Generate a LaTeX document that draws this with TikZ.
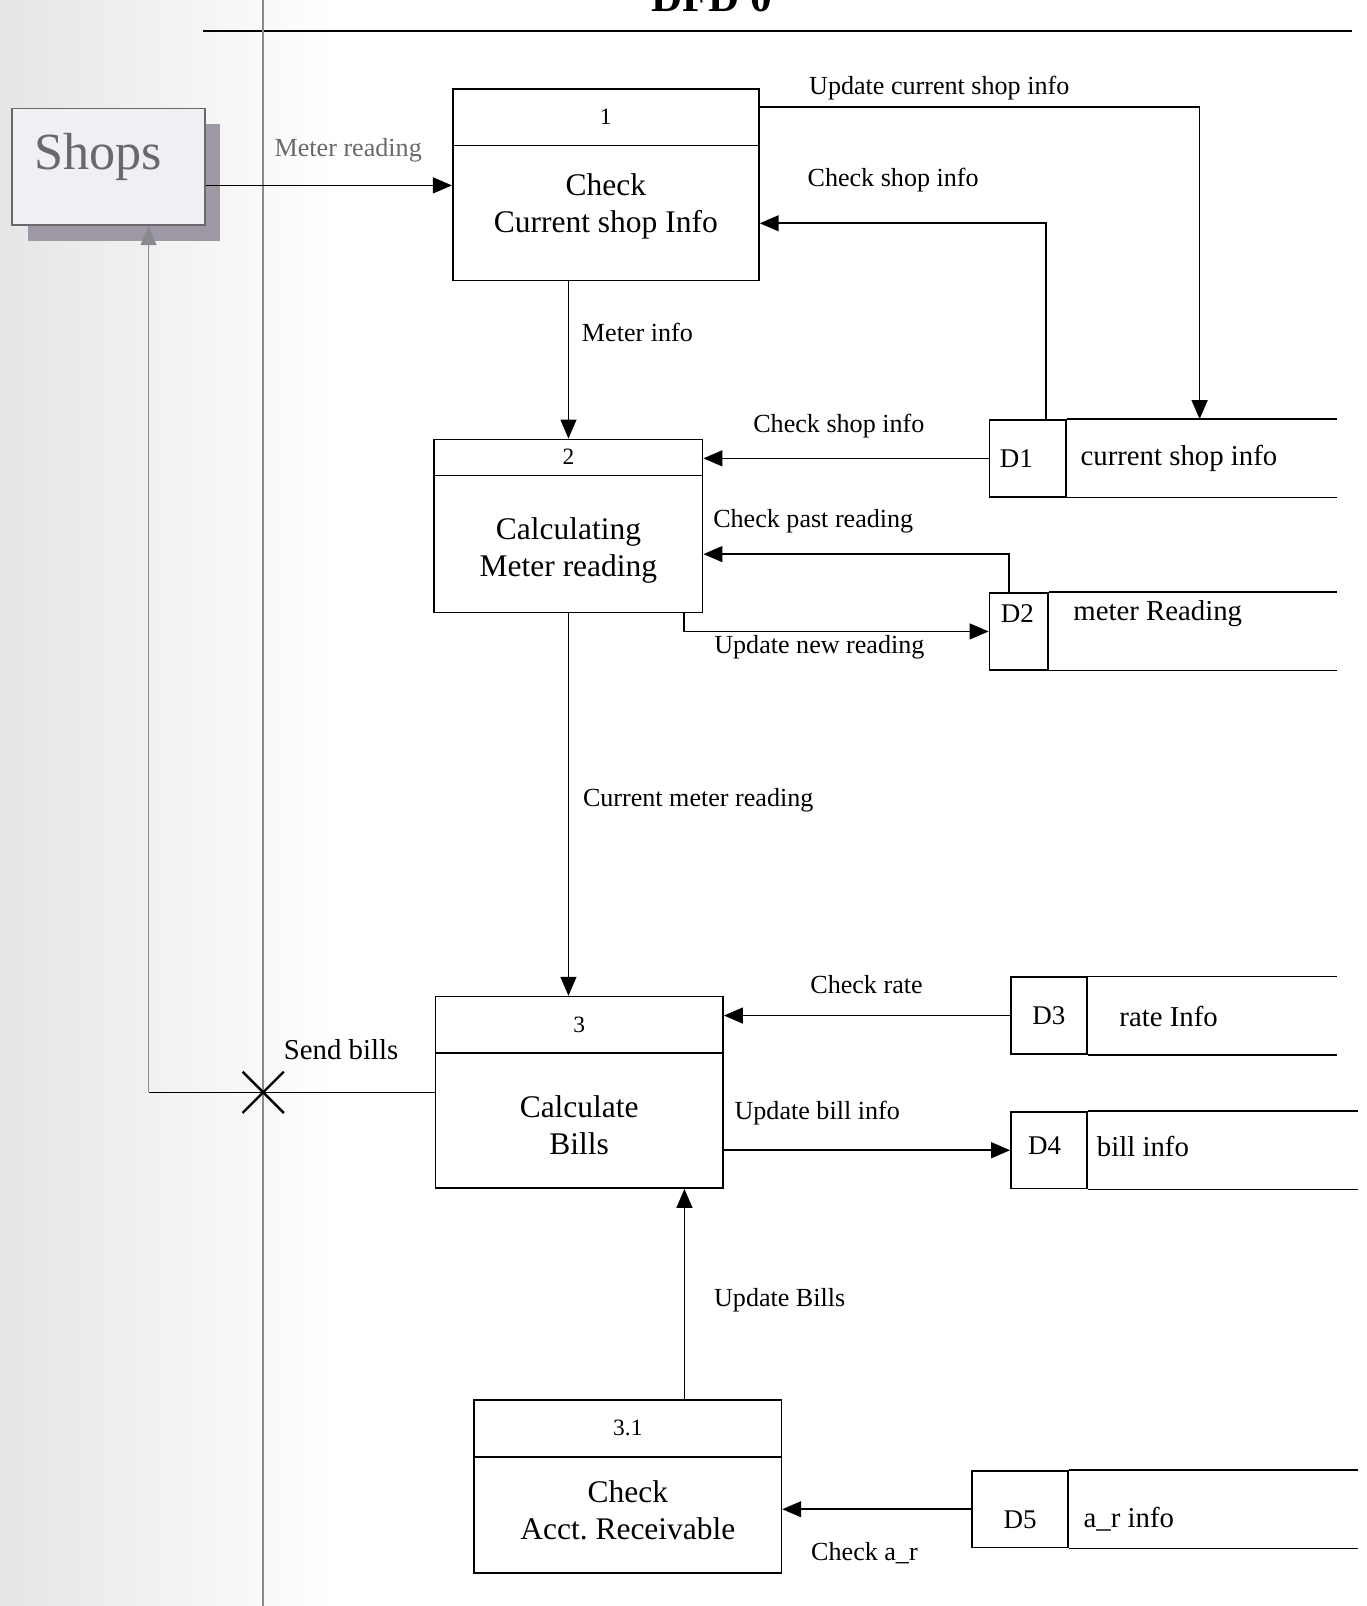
\documentclass[tikz,border=0pt]{standalone}
\usepackage{fontspec}
\setmainfont{Liberation Serif}
\usetikzlibrary{arrows.meta}
\usetikzlibrary{calc}
\usetikzlibrary{shapes.misc}
\usetikzlibrary{shadows}
\definecolor{shopfill}{RGB}{240,240,244}
\definecolor{shopshade}{RGB}{158,152,164}
\definecolor{shopink}{RGB}{105,105,108}
\definecolor{lanegray}{RGB}{138,138,142}
\newcommand\fsz[2]{\fontsize{#1}{#2}\selectfont}
\newcommand\dfdproc[8]{%
  \node[proc,minimum width=#3,minimum height=#4] (#1) at (#2) {};
  \coordinate (#1div) at ($(#1.north west)+(0,#5)$);
  \draw[line] (#1div) -- (#1div -| #1.east);
  \node[procnum] (#1num) at ($(#1.north)!0.5!(#1div -| #1.north)$) {#6};
  \node[proctxt] (#1txt) at ($($(#1div -| #1.south)!0.5!(#1.south)$)+(0,#8)$) {#7};
}
\newcommand\dfdstore[4]{%
  \node[store,minimum width=#3] (#1) at (#2) {};
  \draw[line] (#1.north east) -- ++(#4,0);
  \draw[line] (#1.south east) -- ++(#4,0);
}

\begin{document}
\begin{tikzpicture}[
x=0.02cm, y=-0.02cm,
line/.style={line width=0.9pt},
flow/.style={line, -{Triangle[length=0.37cm,width=0.31cm]}},
proc/.style={draw, line width=0.9pt, inner sep=0pt},
procnum/.style={font=\fsz{13}{15}},
proctxt/.style={align=center, font=\fsz{17.5}{20.5}},
store/.style={draw, line width=0.9pt, minimum height=1.5cm, inner sep=0pt},
storeid/.style={font=\fsz{15}{18}},
storetxt/.style={anchor=west, font=\fsz{16}{19}},
flowlbl/.style={font=\fsz{14.5}{17}},
shopbox/.style={draw=shopink, line width=1pt, fill=shopfill,
  minimum width=3.76cm, minimum height=2.28cm,
  drop shadow={shadow xshift=0.3cm, shadow yshift=-0.3cm, fill=shopshade, opacity=1}}
]
\useasboundingbox (0,0) rectangle (1334,1568);
% scanned page, greyish on the left
\shade[left color=black!10, right color=white] (0,0) rectangle (330,1568);

\node[font=\bfseries\fsz{24}{28}, anchor=base] (title) at (695,11) {DFD 0};
\draw[line] (198,30) -- (1320,30);
\draw[line, draw=lanegray] (257,0) -- (257,1568);

% external entity
\node[shopbox] (shops) at (106,163) {};
\node[font=\fsz{29}{32}, text=shopink] (shopstxt) at ($(shops)+(-10,-10)$) {Shops};

% processes
\dfdproc{p1}{591.5,180.5}{5.98cm}{3.74cm}{56}{1}{Check\\Current shop Info}{-7}
\dfdproc{p2}{555,513.5}{5.24cm}{3.38cm}{36}{2}{Calculating\\Meter reading}{6}
\dfdproc{p3}{565.5,1066.5}{5.62cm}{3.74cm}{56}{3}{Calculate\\Bills}{4}
\dfdproc{p31}{613,1451.5}{6cm}{3.38cm}{56}{3.1}{Check\\Acct.\ Receivable}{-5}

% data stores
\dfdstore{d1}{1003.5,447.5}{1.5cm}{264}
\node[storeid] (d1id) at ($(d1.west)+(27,0)$) {D1};
\node[storetxt] (d1txt) at ($(d1.east)+(7,0)$) {current shop info};
\dfdstore{d2}{994.5,616.5}{1.14cm}{282}
\node[storeid] (d2id) at ($(d2.north west)+(28,21)$) {D2};
\node[storetxt] (d2txt) at ($(d2.north east)+(18,21)$) {meter Reading};
\dfdstore{d3}{1024,991.5}{1.48cm}{244}
\node[storeid] (d3id) at (d3) {D3};
\node[storetxt] (d3txt) at ($(d3.east)+(25,1)$) {rate Info};
\dfdstore{d4}{1024,1123}{1.48cm}{264}
\node[storeid] (d4id) at ($(d4)+(-4,-4)$) {D4};
\node[storetxt] (d4txt) at ($(d4.east)+(3,-4)$) {bill info};
\dfdstore{d5}{996,1473.5}{1.88cm}{282}
\node[storeid] (d5id) at ($(d5)+(0,10)$) {D5};
\node[storetxt] (d5txt) at ($(d5.east)+(8,10)$) {a\_r info};

% flows
\draw[flow] ($(shops.east)+(0,18)$) coordinate (s1) -- (s1 -| p1.west);
\draw[flow] ($(p1.north east)+(0,18)$) -| ($(d1.north west)+(206,0)$);
\draw[flow] ($(d1.north west)+(56,0)$) |- ($(p1.east)+(0,37.5)$);
\draw[flow] (p1.south -| p2.north) -- (p2.north);
\draw[flow] (d1.west) -- (d1.west -| p2.east);
\draw[flow] ($(d2.north west)+(20,0)$) |- ($(p2.east)+(0,27.5)$);
\draw[flow] ($(p2.south east)+(-19,0)$) |- (d2.west);
\draw[flow] (p2.south) -- (p2.south |- p3.north);
\draw[flow] (d3.west) -- (d3.west -| p3.east);
\draw[flow] (d4.west -| p3.east) -- (d4.west);
\draw[flow] ($(p31.north west)+(206,0)$) coordinate (u1) -- (u1 |- p3.south);
\draw[flow] (d5.west) -- (d5.west -| p31.east);

% bills go back out over the boundary
\node[cross out, draw, line width=1.3pt, minimum size=0.76cm, inner sep=0pt] (xmark) at (257,1066.5) {};
\coordinate (sbend) at (145,1066.5);
\draw[line] (p3.west) -- (sbend);
\draw[flow, draw=lanegray] (sbend) -- (sbend |- shops.south);

% flow labels
\node[flowlbl, text=shopink] (lmr) at (340,147) {Meter reading};
\node[flowlbl] (lucs) at (917,86) {Update current shop info};
\node[flowlbl] (lcs1) at (872,176) {Check shop info};
\node[flowlbl, anchor=west] (lmi) at (562,325) {Meter info};
\node[flowlbl] (lcs2) at (819,416) {Check shop info};
\node[flowlbl] (lcpr) at (794,509) {Check past reading};
\node[flowlbl] (lunr) at (800,632) {Update new reading};
\node[flowlbl, anchor=west] (lcmr) at (563,781) {Current meter reading};
\node[flowlbl] (lcr) at (846,961) {Check rate};
\node[flowlbl, anchor=west] (lubi) at (711,1087) {Update bill info};
\node[flowlbl, font=\fsz{16}{19}] (lsb) at (333,1025) {Send bills};
\node[flowlbl, anchor=west] (lub) at (691,1269) {Update Bills};
\node[flowlbl] (lcar) at (844,1516) {Check a\_r};
\end{tikzpicture}
\end{document}
